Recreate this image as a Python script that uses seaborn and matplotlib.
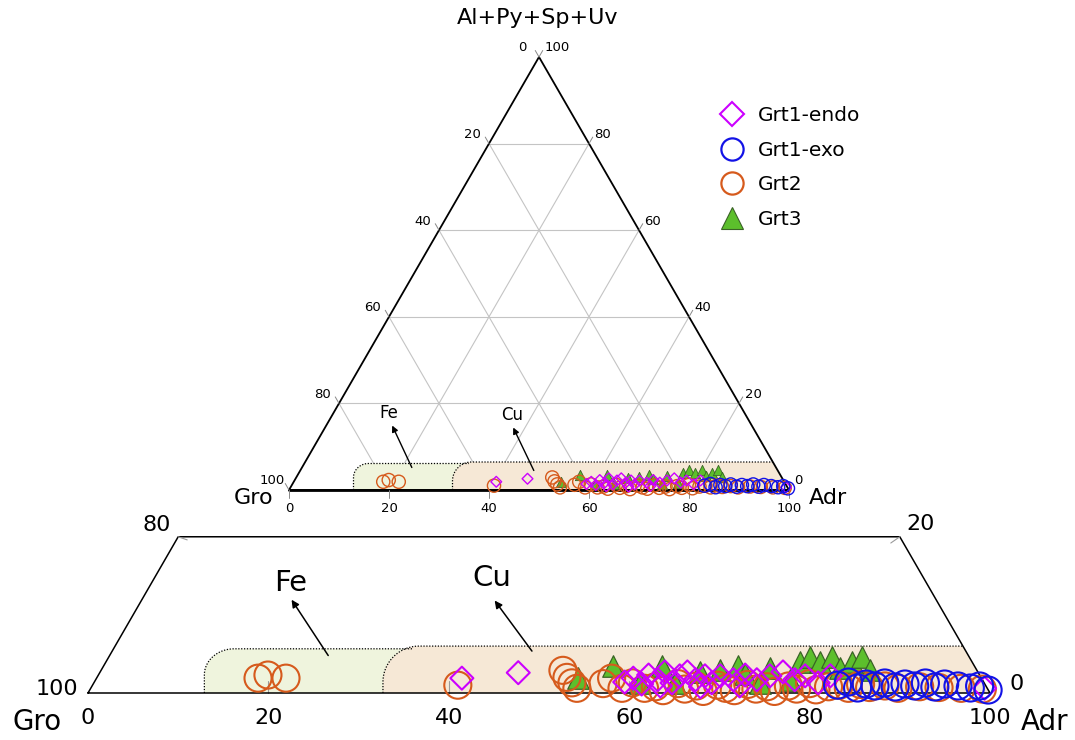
import numpy as np
import matplotlib
matplotlib.use("Agg")
import matplotlib.pyplot as plt
import seaborn as sns
from matplotlib.lines import Line2D

# garnet compositions (mol %): Adr and Al+Py+Sp+Uv, Gro is the remainder
grt1_endo_adr = [40.5, 46.4, 58.8, 59.5, 60.8, 61.0, 62.3, 62.6, 63.0, 64.1, 64.5, 65.1, 66.5, 67.3,
                 67.5, 68.5, 69.0, 70.7, 71.7, 71.8, 73.3, 74.5, 75.7, 77.5, 78.4, 80.3, 81.2, 99.1]
grt1_endo_alpy = [1.9, 2.6, 1.4, 1.9, 1.15, 2.3, 1.7, 2.7, 0.9, 1.3, 2.2, 2.7, 1.7, 2.2,
                  0.8, 1.3, 2.2, 1.7, 2.3, 0.9, 1.7, 2.2, 2.7, 1.7, 2.2, 1.3, 2.2, 0.6]

grt1_exo_adr = [82.6, 83.6, 85.0, 85.7, 86.8, 87.7, 89.1, 90.0, 91.2, 92.2, 93.5, 94.4, 96.0, 97.5,
                98.4, 99.6]
grt1_exo_alpy = [1.0, 1.4, 0.64, 1.15, 0.9, 1.28, 0.77, 1.15, 0.9, 1.28, 0.77, 1.15, 0.9, 0.64,
                 0.9, 0.38]

grt2_adr = [17.9, 18.8, 21.0, 40.5, 51.2, 52.1, 53.0, 53.9, 56.5, 57.1, 58.9, 59.7, 61.4, 62.5,
            63.6, 64.8, 65.9, 67.0, 68.1, 69.3, 70.4, 71.5, 72.6, 73.8, 74.9, 76.0, 77.2, 78.3,
            79.4, 80.5, 81.7, 82.8, 84.0, 85.1, 86.3, 87.9, 89.5, 91.8, 94.0, 96.5, 98.9]
grt2_alpy = [1.9, 2.3, 1.9, 1.0, 2.9, 2.0, 1.3, 0.6, 1.2, 1.9, 0.6, 1.3, 0.6, 0.8,
             0.3, 1.2, 0.5, 0.9, 0.2, 1.0, 0.6, 0.3, 1.1, 0.5, 0.8, 0.2, 0.9, 0.5,
             1.2, 0.4, 0.8, 1.0, 0.6, 1.1, 0.7, 0.9, 0.6, 0.8, 0.7, 0.6, 0.5]

grt3_adr = [53.4, 56.5, 60.6, 61.9, 64.4, 66.5, 68.6, 70.3, 71.6, 73.9, 74.0, 77.0, 76.9, 77.7,
            79.2, 80.2, 81.8, 82.7, 83.5, 85.2]
grt3_alpy = [1.92, 3.46, 1.28, 3.46, 1.28, 2.69, 2.94, 3.46, 2.43, 1.28, 3.2, 1.66, 3.97, 4.6,
             3.97, 4.6, 3.2, 3.97, 4.6, 2.94]

tick_values = [0, 20, 40, 60, 80, 100]
grid_values = [20, 40, 60, 80]

# field outlines (cartesian units of the ternary plot)
fe_left, fe_top = 12.9, 5.0
cu_left, cu_top = 32.7, 5.3

H = np.sqrt(3) / 2
MAGENTA = "#cc00ff"
BLUE = "#1212e6"
ORANGE = "#d65a1c"
GREEN = "#5cbf2c"
GREEN_EDGE = "#3a6326"


def to_xy(adr, alpy):
    adr = np.asarray(adr, float)
    alpy = np.asarray(alpy, float)
    return adr + alpy / 2, alpy * H


def field(ax, left, top, rx, ry, right, to_edge, fill):
    t = np.linspace(np.pi, np.pi / 2, 30)
    ax_ = left + rx + rx * np.cos(t)
    ay_ = top - ry + ry * np.sin(t)
    xr = 100 - top / np.sqrt(3) if to_edge else right
    ox = np.r_[left, ax_, xr]
    oy = np.r_[0, ay_, top]
    bx = 100 if to_edge else right
    ax.fill(np.r_[ox, bx, left], np.r_[oy, 0, 0], color=fill, lw=0, zorder=1)
    ax.plot(ox, oy, color="k", ls=(0, (1, 1.3)), lw=0.9, zorder=1.5)


def points(ax, s_circle, s_diamond, s_tri, lw):
    x, y = to_xy(grt3_adr, grt3_alpy)
    sns.scatterplot(x=x, y=y, marker="^", s=s_tri, color=GREEN, edgecolor=GREEN_EDGE,
                    linewidth=lw * 0.6, ax=ax, zorder=3, legend=False)
    x, y = to_xy(grt2_adr, grt2_alpy)
    sns.scatterplot(x=x, y=y, marker="o", s=s_circle, facecolor="none", edgecolor=ORANGE,
                    linewidth=lw, ax=ax, zorder=4, legend=False)
    x, y = to_xy(grt1_endo_adr, grt1_endo_alpy)
    sns.scatterplot(x=x, y=y, marker="D", s=s_diamond, facecolor="none", edgecolor=MAGENTA,
                    linewidth=lw, ax=ax, zorder=5, legend=False)
    x, y = to_xy(grt1_exo_adr, grt1_exo_alpy)
    sns.scatterplot(x=x, y=y, marker="o", s=s_circle, facecolor="none", edgecolor=BLUE,
                    linewidth=lw, ax=ax, zorder=6, legend=False)


sns.set_style("white")
plt.rcParams["font.family"] = ["DejaVu Sans"]
plt.rcParams["text.color"] = "black"

fig = plt.figure(figsize=(10.75, 7.4), dpi=100)

# ---------------- full ternary (top) ----------------
ax1 = fig.add_axes([0, 0, 1, 1])
ax1.set_xlim(-57.8, 157.2)
ax1.set_ylim(-50, 98)
ax1.axis("off")

for v in grid_values:
    for a0, t0, a1, t1 in [(0, v, 100 - v, v), (v, 0, v, 100 - v), (100 - v, 0, 0, 100 - v)]:
        gx, gy = to_xy([a0, a1], [t0, t1])
        ax1.plot(gx, gy, color="#c4c4c4", lw=0.8, zorder=0.5)

field(ax1, fe_left, fe_top + 0.3, 3.0, 2.8, 36, False, "#eff4dd")
field(ax1, cu_left, cu_top + 0.3, 3.8, 3.8, 0, True, "#f6e8d6")

tx, ty = to_xy([0, 100, 0, 0], [0, 0, 100, 0])
ax1.plot(tx, ty, color="k", lw=1.3, zorder=2)
ax1.plot([0, 100], [0, 0], color="k", lw=2.0, zorder=2)

tl = 1.5
for v in tick_values:
    # left edge: Gro
    ex, ey = to_xy(0, 100 - v)
    ax1.plot([ex, ex - 0.5 * tl], [ey, ey + H * tl], color="#888888", lw=0.7)
    ax1.annotate(str(v), (ex, ey), xytext=(-12, 6.5), textcoords="offset points",
                 ha="center", va="center", fontsize=9.5)
    # right edge: Al+Py+Sp+Uv
    ex, ey = to_xy(100 - v, v)
    ax1.plot([ex, ex + 0.5 * tl], [ey, ey + H * tl], color="#888888", lw=0.7)
    ax1.annotate(str(v), (ex, ey), xytext=(4, 6.5), textcoords="offset points",
                 ha="left", va="center", fontsize=9.5)
    # bottom edge: Adr
    ax1.plot([v, v], [0, -tl], color="#888888", lw=0.7)
    ax1.annotate(str(v), (v, 0), xytext=(0, -13), textcoords="offset points",
                 ha="center", va="center", fontsize=9.5)

points(ax1, 90, 30, 55, 1.0)

# Fe / Cu trend arrows (top)
ax1.annotate("", xy=(20.4, 13.4), xytext=(24.8, 4.0),
             arrowprops=dict(arrowstyle="-|>", color="k", lw=1.0, mutation_scale=9), zorder=7)
ax1.text(20.0, 15.4, "Fe", ha="center", va="center", fontsize=12)
ax1.annotate("", xy=(44.6, 13.0), xytext=(49.2, 3.4),
             arrowprops=dict(arrowstyle="-|>", color="k", lw=1.0, mutation_scale=9), zorder=7)
ax1.text(44.6, 15.0, "Cu", ha="center", va="center", fontsize=12)

# ---------------- enlarged strip (bottom) ----------------
ax2 = fig.add_axes([0, 0, 1, 1])
ax2.set_xlim(-88 / 9.02, 987 / 9.02)
ax2.set_ylim(-47 / 9.02, 693 / 9.02)
ax2.axis("off")

field(ax2, fe_left, fe_top - 0.1, 3.3, 2.9, 36, False, "#eff4dd")
field(ax2, cu_left, cu_top - 0.1, 4.0, 4.0, 0, True, "#f6e8d6")

px_, py_ = to_xy([0, 100, 80, 0, 0], [0, 0, 20, 20, 0])
ax2.plot(px_, py_, color="k", lw=1.1, zorder=2)

# short grid stubs
for a0, t0, a1, t1 in [(0, 20, 1.2, 19.6), (80, 20, 79.4, 19.2)]:
    gx, gy = to_xy([a0, a1], [t0, t1])
    ax2.plot(gx, gy, color="#9a9a9a", lw=0.8)
for v in grid_values:
    ax2.plot([v, v], [0, 1.3], color="#9a9a9a", lw=0.8, zorder=1.6)

for v in tick_values:
    ax2.annotate(str(v), (v, 0), xytext=(0, -18), textcoords="offset points",
                 ha="center", va="center", fontsize=16)
ex, ey = to_xy(0, 0)
ax2.annotate("100", (ex, ey), xytext=(-7, 3), textcoords="offset points",
             ha="right", va="center", fontsize=16)
ex, ey = to_xy(0, 20)
ax2.annotate("80", (ex, ey), xytext=(-5, 8.5), textcoords="offset points",
             ha="right", va="center", fontsize=16)
ex, ey = to_xy(80, 20)
ax2.annotate("20", (ex, ey), xytext=(5, 9.5), textcoords="offset points",
             ha="left", va="center", fontsize=16)
ex, ey = to_xy(100, 0)
ax2.annotate("0", (ex, ey), xytext=(14, 6.5), textcoords="offset points",
             ha="left", va="center", fontsize=16)

points(ax2, 380, 137, 240, 1.5)

ax2.annotate("", xy=(22.4, 10.6), xytext=(26.8, 3.9),
             arrowprops=dict(arrowstyle="-|>", color="k", lw=1.1, mutation_scale=11), zorder=7)
ax2.text(22.5, 12.2, "Fe", ha="center", va="center", fontsize=21)
ax2.annotate("", xy=(44.9, 10.5), xytext=(49.4, 4.4),
             arrowprops=dict(arrowstyle="-|>", color="k", lw=1.1, mutation_scale=11), zorder=7)
ax2.text(44.8, 12.8, "Cu", ha="center", va="center", fontsize=21)

# ---------------- labels ----------------
W, Hpx = 1075, 740
fig.text(538 / W, 1 - 18 / Hpx, "Al+Py+Sp+Uv", ha="center", va="center", fontsize=16)
fig.text(254 / W, 1 - 498 / Hpx, "Gro", ha="center", va="center", fontsize=16)
fig.text(828 / W, 1 - 498 / Hpx, "Adr", ha="center", va="center", fontsize=16)
fig.text(37 / W, 1 - 722 / Hpx, "Gro", ha="center", va="center", fontsize=20)
fig.text(1045 / W, 1 - 722 / Hpx, "Adr", ha="center", va="center", fontsize=20)

handles = [
    Line2D([], [], marker="D", ls="none", mfc="none", mec=MAGENTA, ms=12.5, mew=1.5),
    Line2D([], [], marker="o", ls="none", mfc="none", mec=BLUE, ms=16, mew=1.6),
    Line2D([], [], marker="o", ls="none", mfc="none", mec=ORANGE, ms=16, mew=1.6),
    Line2D([], [], marker="^", ls="none", mfc=GREEN, mec=GREEN_EDGE, ms=16, mew=0.8),
]
ax2.legend(handles, ["Grt1-endo", "Grt1-exo", "Grt2", "Grt3"], loc="upper left",
           bbox_to_anchor=(718 / W, 1 - 106 / Hpx), bbox_transform=fig.transFigure,
           frameon=False, fontsize=14.5, labelspacing=0.78, handletextpad=0.6,
           handlelength=1.4, borderpad=0, borderaxespad=0)

fig.savefig("out.png", dpi=100, facecolor="white")
